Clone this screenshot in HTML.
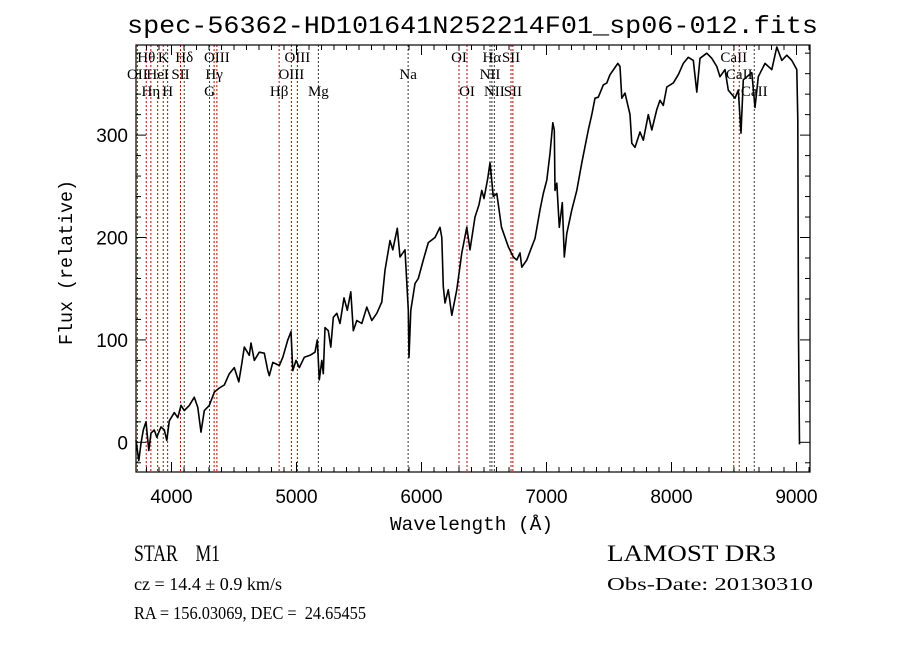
<!DOCTYPE html>
<html><head><meta charset="utf-8"><style>
html,body{margin:0;padding:0;background:#fff;}
svg{display:block;}
text{fill:#000;white-space:pre;}
</style></head><body>
<svg id="chart" width="900" height="649" xmlns="http://www.w3.org/2000/svg" xml:space="preserve">
<rect width="900" height="649" fill="#fff"/>
<text x="127" y="33" font-family="Liberation Mono, monospace" font-size="25" textLength="691" lengthAdjust="spacingAndGlyphs">spec-56362-HD101641N252214F01_sp06-012.fits</text>
<g id="lines"></g>
<g id="labels"></g>
<g id="series"></g>
<g id="axes"></g>
<text x="390" y="530" font-family="Liberation Mono, monospace" font-size="19" textLength="163" lengthAdjust="spacingAndGlyphs">Wavelength (Å)</text>
<text transform="translate(72,345) rotate(-90)" font-family="Liberation Mono, monospace" font-size="19" textLength="165" lengthAdjust="spacingAndGlyphs">Flux (relative)</text>
<text x="134" y="561" font-family="Liberation Serif, serif" font-size="23" textLength="86" lengthAdjust="spacingAndGlyphs">STAR    M1</text>
<text x="134" y="590" font-family="Liberation Serif, serif" font-size="18" textLength="148" lengthAdjust="spacingAndGlyphs">cz = 14.4 ± 0.9 km/s</text>
<text x="134" y="619" font-family="Liberation Serif, serif" font-size="18" textLength="232" lengthAdjust="spacingAndGlyphs">RA = 156.03069, DEC =  24.65455</text>
<text x="607" y="561" font-family="Liberation Serif, serif" font-size="23" textLength="169" lengthAdjust="spacingAndGlyphs">LAMOST DR3</text>
<text x="607" y="590" font-family="Liberation Serif, serif" font-size="18" textLength="206" lengthAdjust="spacingAndGlyphs">Obs-Date: 20130310</text>
</svg>
<script>
const wavelengths=[3716,3738,3756,3774,3796,3818,3836,3862,3882,3916,3942,3962,3982,4022,4050,4076,4102,4142,4182,4210,4236,4262,4302,4342,4382,4422,4462,4502,4538,4564,4582,4622,4636,4662,4702,4742,4770,4782,4810,4862,4890,4930,4956,4970,4996,5022,5062,5108,5148,5166,5182,5202,5214,5228,5254,5274,5294,5322,5348,5380,5406,5434,5454,5482,5522,5562,5602,5642,5682,5708,5748,5770,5806,5828,5868,5894,5900,5914,5948,5974,6014,6054,6108,6148,6162,6174,6188,6214,6242,6282,6322,6362,6388,6428,6460,6482,6500,6530,6548,6574,6602,6640,6694,6734,6762,6788,6802,6842,6882,6908,6948,6974,7002,7028,7050,7062,7068,7082,7102,7126,7142,7162,7202,7242,7282,7334,7362,7388,7414,7454,7482,7508,7548,7570,7588,7602,7628,7668,7682,7708,7748,7774,7814,7842,7882,7908,7934,7962,8014,8054,8094,8134,8174,8202,8228,8282,8322,8362,8388,8428,8454,8508,8534,8556,8574,8642,8668,8694,8748,8802,8842,8882,8922,8962,9002,9010,9016,9024];
const fluxes=[2,-18,-1,12,20,-8,9,12,5,15,12,2,21,29,24,36,31,36,44,34,10,31,36,49,53,56,67,73,59,78,93,85,97,80,88,87,70,65,78,75,83,100,108,70,80,73,83,85,88,100,61,80,67,112,109,93,122,126,116,141,129,147,109,119,116,132,119,126,137,168,197,188,209,181,188,129,83,129,155,160,178,195,200,210,200,152,136,149,124,149,185,210,188,220,232,246,238,258,273,240,243,210,191,181,178,185,171,178,191,199,227,243,256,282,312,305,246,253,210,234,181,204,227,246,273,305,320,336,337,349,351,359,366,370,367,336,341,320,292,288,303,295,320,305,325,334,329,347,351,359,370,376,373,342,375,380,375,367,357,364,344,336,344,302,354,361,327,357,370,364,386,373,378,373,364,315,104,-2];
const lineWaves=[3727,3798,3835,3889,3934,3969,4072,4102,4304,4341,4363,4861,4959,5007,5175,5893,6300,6364,6548,6563,6583,6716,6731,8498,8542,8662];
const lineNames=["OII","Hθ","Hη","HeI","K","H","SII","Hδ","G","Hγ","OIII","Hβ","OIII","OIII","Mg","Na","OI","OI","NII","Hα","NII","SII","SII","CaII","CaII","CaII"];
const lineRows=[2,1,3,2,1,3,2,1,3,2,1,3,2,1,3,2,1,3,2,1,3,1,3,1,2,3];
const lineDark=[0,0,0,0,0,0,0,1,0,0,0,0,0,0,1,1,0,0,1,1,1,0,0,0,0,1];
const xTicks=[4000,5000,6000,7000,8000,9000];
const yTicks=[0,100,200,300];

const L=136,R=810,T=45,B=472;
const X0=3716,X1=9108,Y0=-29,Y1=388;
const NS="http://www.w3.org/2000/svg";
function sx(w){return L+(w-X0)/(X1-X0)*(R-L);}
function sy(f){return B-(f-Y0)/(Y1-Y0)*(B-T);}
function mk(tag,attrs,parent){const e=document.createElementNS(NS,tag);for(const k in attrs)e.setAttribute(k,attrs[k]);parent.appendChild(e);return e;}

const gl=document.getElementById('lines'),glab=document.getElementById('labels');
const rowY={1:62,2:79,3:96};
for(let i=0;i<lineWaves.length;i++){
  const x=sx(lineWaves[i]);
  const ln=mk('line',{x1:x,x2:x,y1:T,y2:B,stroke:lineDark[i]?'#333':'#c00000','stroke-width':1,'stroke-dasharray':'2,2'},gl);
  
  
  const t=mk('text',{x:x,y:rowY[lineRows[i]],'text-anchor':'middle','font-family':'Liberation Serif, DejaVu Serif, serif','font-size':15},glab);
  t.textContent=lineNames[i];
  
  
}

const gs=document.getElementById('series');
let d='';
for(let i=0;i<wavelengths.length;i++){d+=(i?'L':'M')+sx(wavelengths[i]).toFixed(1)+','+sy(fluxes[i]).toFixed(1);}
const p=mk('path',{d:d,fill:'none',stroke:'#000','stroke-width':1.6,'stroke-linejoin':'round'},gs);



const ga=document.getElementById('axes');
const fr=mk('rect',{x:L,y:T,width:R-L,height:B-T,fill:'none',stroke:'#000','stroke-width':1.2},ga);


for(let w=3800;w<=9100;w+=100){
  const x=sx(w),big=(w%1000===0),len=big?10:5;
  mk('line',{x1:x,x2:x,y1:B,y2:B-len,stroke:'#000'},ga);
  mk('line',{x1:x,x2:x,y1:T,y2:T+len,stroke:'#000'},ga);
}
for(let f=-20;f<=380;f+=20){
  const y=sy(f),big=(f%100===0),len=big?10:5;
  mk('line',{x1:L,x2:L+len,y1:y,y2:y,stroke:'#000'},ga);
  mk('line',{x1:R,x2:R-len,y1:y,y2:y,stroke:'#000'},ga);
}
xTicks.forEach(w=>{
  const t=mk('text',{x:sx(w),y:503,'text-anchor':'middle','font-family':'Liberation Sans, sans-serif','font-size':19},ga);
  t.textContent=w;
  
  
});
yTicks.forEach(f=>{
  const t=mk('text',{x:128,y:sy(f)+7,'text-anchor':'end','font-family':'Liberation Sans, sans-serif','font-size':19},ga);
  t.textContent=f;
  
  
});
</script>
</body></html>
